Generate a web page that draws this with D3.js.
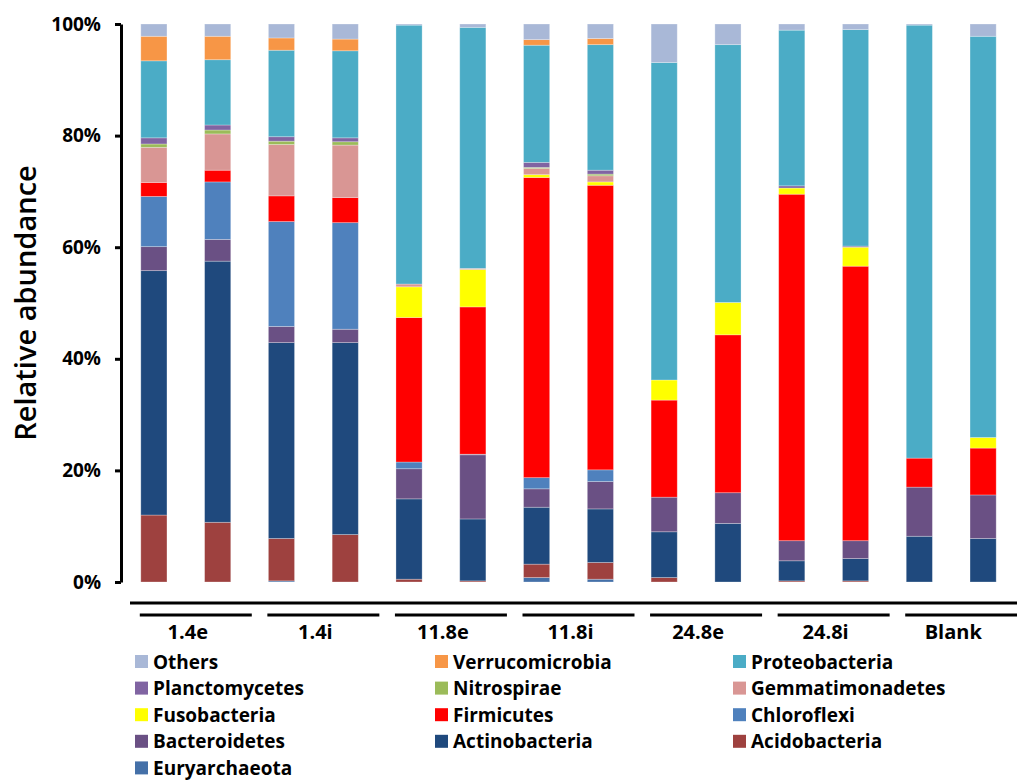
<!DOCTYPE html>
<html>
<head>
<meta charset="utf-8">
<script src="https://cdn.jsdelivr.net/npm/d3@7"></script>
<style>
  html, body { margin: 0; padding: 0; background: #fff; }
  svg { display: block; }
  text { font-family: "Open Sans", "Liberation Sans", sans-serif; }
</style>
</head>
<body>
<svg id="chart" width="1019" height="781"></svg>
<script>
// Sample groups (two replicates each) and bar ids
const groups = ["1.4e", "1.4i", "11.8e", "11.8i", "24.8e", "24.8i", "Blank"];
const samples = groups.flatMap(g => [g + "-1", g + "-2"]);

// Phyla, stacked from the bottom up
const phyla = ["Euryarchaeota", "Acidobacteria", "Actinobacteria", "Bacteroidetes", "Chloroflexi",
  "Firmicutes", "Fusobacteria", "Gemmatimonadetes", "Nitrospirae", "Planctomycetes",
  "Proteobacteria", "Verrucomicrobia", "Others"];

// Relative abundance (%) per sample, in the order of `samples`
const Euryarchaeota    = [0, 0, 0.2, 0, 0, 0, 0.8, 0.5, 0, 0, 0, 0, 0, 0];
const Acidobacteria    = [12.0, 10.7, 7.6, 8.5, 0.5, 0.2, 2.4, 3.0, 0.8, 0, 0.2, 0.2, 0, 0];
const Actinobacteria   = [43.8, 46.8, 35.1, 34.4, 14.4, 11.1, 10.2, 9.6, 8.2, 10.5, 3.6, 4.0, 8.2, 7.8];
const Bacteroidetes    = [4.3, 3.9, 2.9, 2.4, 5.4, 11.5, 3.3, 4.9, 6.2, 5.5, 3.6, 3.2, 8.8, 7.8];
const Chloroflexi      = [9.0, 10.3, 18.8, 19.1, 1.2, 0.1, 2.0, 2.1, 0, 0, 0, 0, 0, 0];
const Firmicutes       = [2.5, 2.1, 4.6, 4.5, 25.9, 26.4, 53.8, 51.0, 17.4, 28.3, 62.1, 49.2, 5.2, 8.4];
const Fusobacteria     = [0, 0, 0, 0, 5.5, 6.7, 0.5, 0.6, 3.6, 5.8, 1.1, 3.4, 0, 1.9];
const Gemmatimonadetes = [6.3, 6.5, 9.2, 9.4, 0.5, 0.2, 1.1, 1.1, 0, 0, 0, 0, 0, 0];
const Nitrospirae      = [0.6, 0.7, 0.6, 0.6, 0, 0, 0.2, 0.3, 0, 0, 0, 0, 0, 0];
const Planctomycetes   = [1.1, 0.9, 0.8, 0.7, 0, 0, 0.9, 0.7, 0, 0, 0.4, 0.2, 0, 0];
const Proteobacteria   = [13.8, 11.7, 15.5, 15.6, 46.4, 43.2, 21.0, 22.5, 56.9, 46.2, 27.9, 38.8, 77.6, 71.9];
const Verrucomicrobia  = [4.4, 4.2, 2.2, 2.1, 0, 0, 1.0, 1.1, 0, 0, 0, 0, 0, 0];
const Others           = [2.2, 2.2, 2.5, 2.7, 0.2, 0.6, 2.8, 2.6, 6.9, 3.7, 1.1, 1.0, 0.2, 2.2];

const yTicks = [0, 20, 40, 60, 80, 100];

const seriesValues = { Euryarchaeota, Acidobacteria, Actinobacteria, Bacteroidetes, Chloroflexi,
  Firmicutes, Fusobacteria, Gemmatimonadetes, Nitrospirae, Planctomycetes,
  Proteobacteria, Verrucomicrobia, Others };

const colors = {
  Others: "#a9b8d7", Verrucomicrobia: "#f79646", Proteobacteria: "#4bacc6",
  Planctomycetes: "#8064a2", Nitrospirae: "#9bbb59", Gemmatimonadetes: "#d99694",
  Fusobacteria: "#ffff00", Firmicutes: "#ff0000", Chloroflexi: "#4f81bd",
  Bacteroidetes: "#6a5084", Actinobacteria: "#1f497d", Acidobacteria: "#9e413f",
  Euryarchaeota: "#4470a8"
};

// Build one row per sample for d3.stack
const rows = samples.map((s, i) => {
  const r = { sample: s };
  phyla.forEach(p => { r[p] = seriesValues[p][i]; });
  return r;
});

const svg = d3.select("#chart");

const x = d3.scaleBand().domain(samples).range([122, 1015]).paddingInner(0.59).paddingOuter(0.295);
const y = d3.scaleLinear().domain([0, 100]).range([582, 24]);

const stacked = d3.stack().keys(phyla)(rows);

// Bars
svg.append("g").selectAll("g")
  .data(stacked)
  .join("g")
  .attr("fill", d => colors[d.key])
  .selectAll("rect")
  .data(d => d)
  .join("rect")
  .attr("x", d => x(d.data.sample))
  .attr("width", x.bandwidth())
  .attr("y", d => y(d[1]))
  .attr("height", d => Math.max(0, y(d[0]) - y(d[1])))
  .attr("stroke", "rgba(255,255,255,0.35)")
  .attr("stroke-width", 0.8);

// Y axis
const yAxis = svg.append("g")
  .attr("transform", "translate(121,0)")
  .call(d3.axisLeft(y).tickValues(yTicks).tickFormat(d => d + "%").tickSize(6).tickSizeOuter(0).tickPadding(14));
yAxis.select(".domain").attr("stroke", "#000").attr("stroke-width", 3);
yAxis.selectAll(".tick line").attr("stroke", "#000").attr("stroke-width", 3);
yAxis.selectAll(".tick text")
  .attr("fill", "#000")
  .style("font-family", "'Open Sans', sans-serif")
  .style("font-size", "19px")
  .style("font-weight", "bold");

svg.append("text")
  .attr("transform", "translate(36,303) rotate(-90)")
  .attr("text-anchor", "middle")
  .style("font-size", "29px")
  .style("font-weight", "600")
  .text("Relative abundance");

// Baseline under the chart
svg.append("line")
  .attr("x1", 130).attr("x2", 1017)
  .attr("y1", 603).attr("y2", 603)
  .attr("stroke", "#000").attr("stroke-width", 3);

// Group brackets and labels
const groupCenter = g => (x(g + "-1") + x(g + "-2") + x.bandwidth()) / 2;
const gAxis = svg.append("g");
gAxis.selectAll("line")
  .data(groups)
  .join("line")
  .attr("x1", g => groupCenter(g) + 10 - 56)
  .attr("x2", g => Math.min(1017, groupCenter(g) + 10 + 56))
  .attr("y1", 615).attr("y2", 615)
  .attr("stroke", "#000").attr("stroke-width", 3);
gAxis.selectAll("text")
  .data(groups)
  .join("text")
  .attr("x", g => groupCenter(g) + 2)
  .attr("y", 639)
  .attr("text-anchor", "middle")
  .style("font-size", "20px")
  .style("font-weight", "bold")
  .text(g => g);

// Legend: three columns, top of the stack first
const legendKeys = phyla.slice().reverse();
const colX = [135, 435, 733];
const legend = svg.append("g").selectAll("g")
  .data(legendKeys)
  .join("g")
  .attr("transform", (d, i) => `translate(${colX[i % 3]},${662 + Math.floor(i / 3) * 26.6})`);
legend.append("rect")
  .attr("x", 0).attr("y", -7)
  .attr("width", 13).attr("height", 13)
  .attr("fill", d => colors[d]);
legend.append("text")
  .attr("x", 18).attr("y", 6.5)
  .style("font-size", "19px")
  .style("font-weight", "bold")
  .text(d => d);
</script>
</body>
</html>
